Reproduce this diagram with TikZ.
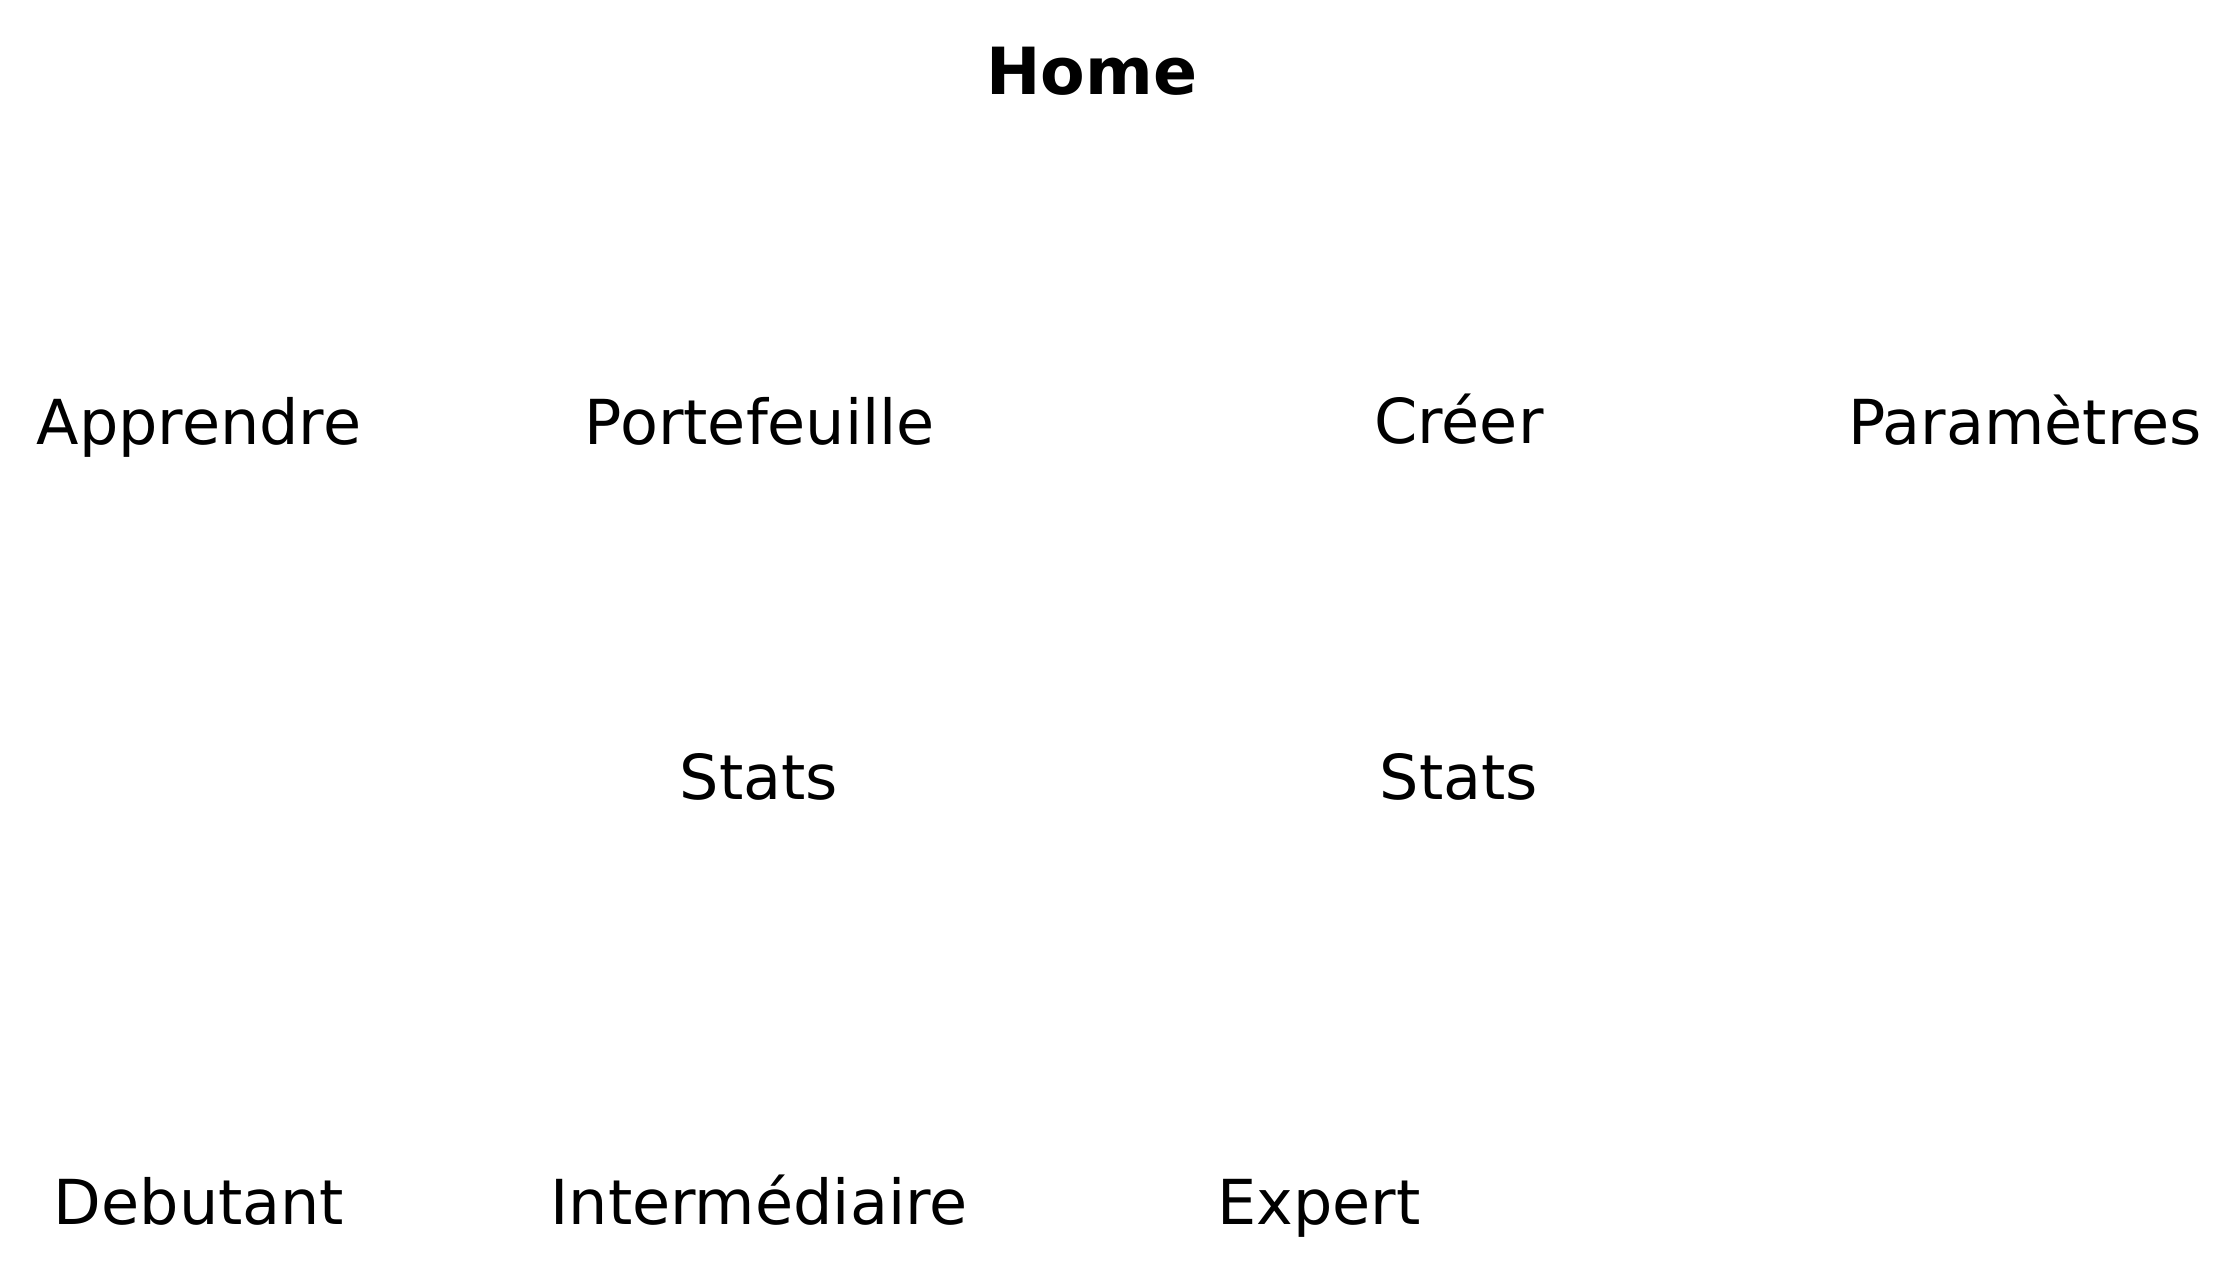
\documentclass[tikz,border=0pt]{standalone}
\usepackage{fontspec}
\setmainfont{DejaVu Sans}
\usetikzlibrary{positioning}
\tikzstyle{page} = [
  inner sep = 0pt, anchor = base, font = \fontsize{31}{37}\selectfont
]
\tikzstyle{root} = [
  page, font = \fontsize{32.5}{39}\selectfont\bfseries
]

\begin{document}
\begin{tikzpicture}[x=0.5pt, y=-0.5pt]
    \useasboundingbox (0,0) rectangle (2224,1272);
    \node[root] (home) at (1092,95) {Home};

    \node[page] (apprendre) at (199,445) {Apprendre};
    \node[page] (portefeuille) at (760,445) {Portefeuille};
    \node[page] (creer) at (1459,444) {Créer};
    \node[page] (parametres) at (2025,445) {Paramètres};

    \node[page] (statsport) at (759,800) {Stats};
    \node[page] (statscreer) at (1459,800) {Stats};

    \node[page] (debutant) at (199,1224) {Debutant};
    \node[page] (intermediaire) at (759,1224) {Intermédiaire};
    \node[page] (expert) at (1319,1224) {Expert};
  \end{tikzpicture}
\end{document}
